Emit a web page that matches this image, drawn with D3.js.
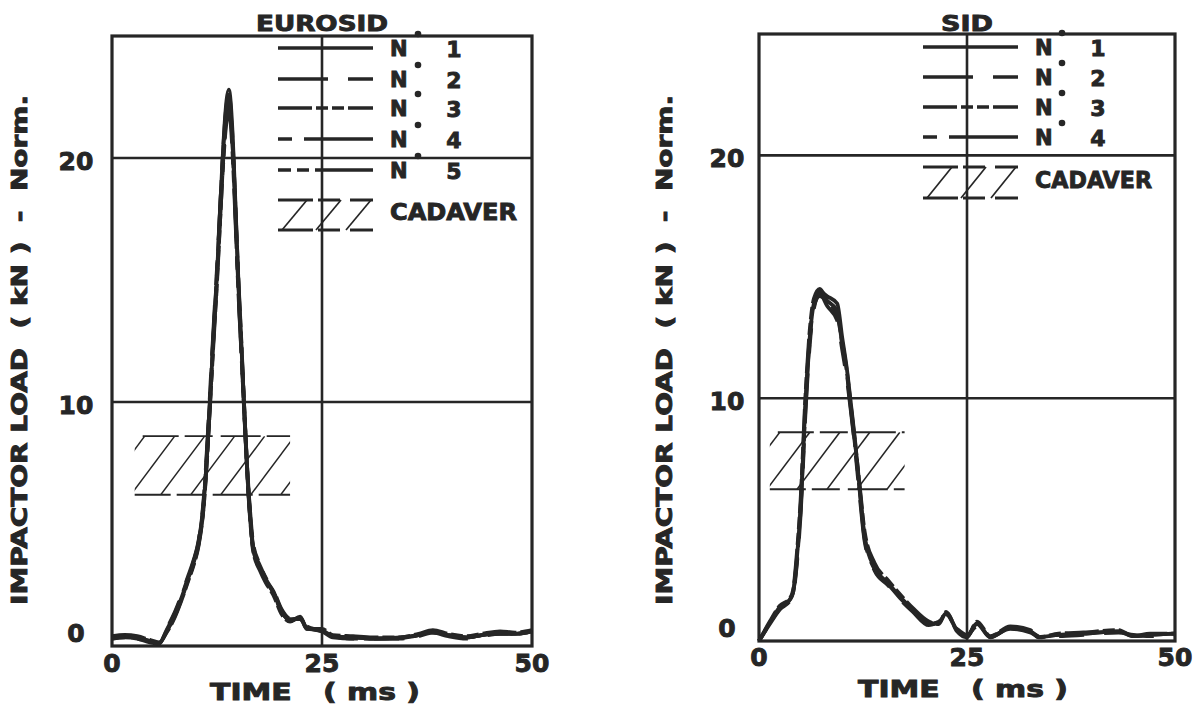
<!DOCTYPE html>
<html lang="en">
<head>
<meta charset="UTF-8">
<title>Impactor load - EUROSID / SID</title>
<script src="https://d3js.org/d3.v7.min.js"></script>
<style>
  body { margin: 0; background: white; }
  svg text { font-family: "DejaVu Sans", sans-serif; font-weight: bold; fill: #262626; stroke: #262626; stroke-width: 0.9; white-space: pre; }
</style>
</head>
<body>
<svg width="1200" height="704"></svg>
<script>
// ---- data ----
const timeTicks = [0, 25, 50];
const loadTicks = [0, 10, 20];

const eurosidTime = [0, 1.5, 3, 4.5, 5.6, 6.5, 7.5, 8.3, 9.0, 9.7, 10.3, 10.8, 12.3, 13.9, 15.2, 16.4, 16.8, 17.6, 18.3, 19.2, 20.2, 21.2, 22.4, 23.2, 25, 26.3, 28.7, 31, 34.3, 36.5, 38.2, 40, 42.2, 44, 46.2, 48, 50];
const eurosidN1 = [0.35, 0.4, 0.35, 0.2, 0.1, 0.6, 1.3, 2.0, 2.7, 3.4, 4.2, 5.4, 14.0, 22.8, 13.8, 5.5, 4.0, 3.2, 2.7, 2.2, 1.4, 1.05, 1.15, 0.75, 0.65, 0.4, 0.35, 0.3, 0.33, 0.45, 0.6, 0.45, 0.35, 0.45, 0.55, 0.5, 0.6];
const eurosidN2 = [0.3, 0.35, 0.3, 0.15, 0.1, 0.7, 1.4, 2.1, 2.8, 3.5, 4.3, 5.6, 14.3, 22.4, 13.5, 5.6, 4.1, 3.3, 2.8, 2.3, 1.5, 1.1, 1.0, 0.8, 0.6, 0.35, 0.3, 0.3, 0.3, 0.4, 0.55, 0.4, 0.3, 0.4, 0.5, 0.5, 0.55];
const eurosidN3 = [0.4, 0.45, 0.4, 0.25, 0.15, 0.55, 1.2, 1.9, 2.6, 3.3, 4.1, 5.3, 13.7, 22.2, 13.9, 5.4, 3.9, 3.1, 2.6, 2.1, 1.3, 1.0, 1.2, 0.7, 0.7, 0.45, 0.4, 0.35, 0.35, 0.5, 0.65, 0.5, 0.4, 0.5, 0.6, 0.55, 0.65];
const eurosidN4 = [0.35, 0.4, 0.3, 0.2, 0.1, 0.65, 1.35, 2.05, 2.75, 3.45, 4.25, 5.5, 14.1, 22.6, 13.6, 5.7, 4.2, 3.35, 2.75, 2.25, 1.45, 1.1, 1.1, 0.75, 0.6, 0.4, 0.35, 0.3, 0.3, 0.45, 0.6, 0.45, 0.35, 0.45, 0.5, 0.5, 0.6];
const eurosidN5 = [0.3, 0.35, 0.35, 0.2, 0.1, 0.6, 1.25, 1.95, 2.65, 3.35, 4.15, 5.35, 13.9, 21.9, 13.4, 5.5, 4.0, 3.2, 2.7, 2.2, 1.4, 1.05, 1.15, 0.7, 0.65, 0.4, 0.3, 0.3, 0.35, 0.45, 0.55, 0.45, 0.35, 0.45, 0.55, 0.5, 0.6];

const sidTime = [0, 1.3, 2.5, 3.7, 4.1, 4.5, 5.0, 5.6, 6.1, 6.6, 7.3, 8.2, 9.4, 10.0, 10.6, 11.0, 11.5, 12.1, 12.7, 13.9, 15.5, 17.0, 18.5, 20.4, 21.6, 22.5, 23.8, 25, 26.2, 27.8, 30.2, 32.6, 33.6, 36, 39, 43.2, 45, 47, 50];
const sidN1 = [0, 0.75, 1.4, 1.7, 2.0, 3.2, 5.5, 9.9, 12.5, 13.9, 14.4, 14.2, 13.9, 12.5, 11.1, 9.9, 8.4, 6.3, 4.3, 3.0, 2.4, 1.8, 1.3, 0.7, 0.75, 1.15, 0.45, 0.2, 0.74, 0.16, 0.53, 0.4, 0.16, 0.25, 0.3, 0.4, 0.2, 0.25, 0.3];
const sidN2 = [0, 0.7, 1.3, 1.65, 1.9, 3.0, 5.2, 9.5, 12.2, 13.7, 14.3, 13.8, 13.2, 12.0, 10.7, 9.6, 8.1, 6.0, 4.1, 2.9, 2.3, 1.7, 1.2, 0.65, 0.8, 1.0, 0.5, 0.25, 0.6, 0.2, 0.5, 0.35, 0.2, 0.2, 0.25, 0.35, 0.25, 0.2, 0.25];
const sidN3 = [0, 0.8, 1.45, 1.75, 2.1, 3.4, 5.8, 10.2, 12.8, 14.1, 14.5, 14.0, 13.4, 12.3, 11.0, 9.8, 8.3, 6.4, 4.5, 3.2, 2.5, 1.9, 1.35, 0.8, 0.7, 1.2, 0.4, 0.15, 0.8, 0.2, 0.6, 0.45, 0.15, 0.3, 0.35, 0.45, 0.2, 0.3, 0.3];
const sidN4 = [0, 0.72, 1.35, 1.7, 2.0, 3.1, 5.4, 9.7, 12.4, 13.8, 14.2, 14.0, 13.6, 12.2, 10.9, 9.7, 8.2, 6.2, 4.2, 2.95, 2.35, 1.75, 1.25, 0.7, 0.75, 1.1, 0.45, 0.2, 0.7, 0.15, 0.55, 0.4, 0.2, 0.25, 0.3, 0.4, 0.2, 0.25, 0.3];

// cadaver corridor: time span and load band
const eurosidCorridorTime = [2.7, 21.2];
const eurosidCorridorLoad = [6.2, 8.6];
const sidCorridorTime = [1.3, 17.5];
const sidCorridorLoad = [6.25, 8.6];

const dummyNumbers = ["1", "2", "3", "4", "5"];
const dashes = [null, "50 20 25 20", "34 4 12 4 12 4", "14 12 70 10", "13 6 12 6 60 8"];

// ---- drawing ----
const svg = d3.select("svg");
const ink = "#262626";

const panels = [
  { title: "EUROSID", titleW: 132, left: 112, right: 532, top: 36, bottom: 646,
    time: eurosidTime, series: [eurosidN1, eurosidN2, eurosidN3, eurosidN4, eurosidN5],
    corrT: eurosidCorridorTime, corrL: eurosidCorridorLoad,
    legX: 278, legRows: [48, 79, 108, 139, 170], cadY: [200, 230],
    textX: 390, dotX: 418, numX: 454, cadW: 127,
    yLabelX: 19, xLabelX: 210, xLabelY: 700, xTickY: 663, yTickX: 76 },
  { title: "SID", titleW: 52, left: 759, right: 1175, top: 34, bottom: 641,
    time: sidTime, series: [sidN1, sidN2, sidN3, sidN4],
    corrT: sidCorridorTime, corrL: sidCorridorLoad,
    legX: 923, legRows: [47, 77, 107, 137], cadY: [167, 198],
    textX: 1035, dotX: 1062, numX: 1098, cadW: 117,
    yLabelX: 664, xLabelX: 858, xLabelY: 697, xTickY: 657, yTickX: 727 }
];

panels.forEach((p, pi) => {
  const x = d3.scaleLinear().domain([0, 50]).range([p.left, p.right]);
  const y = d3.scaleLinear().domain([0, 25]).range([p.bottom, p.top]);
  const g = svg.append("g");

  // grid lines
  g.selectAll(".hgrid").data([10, 20]).enter().append("line")
    .attr("x1", p.left).attr("x2", p.right)
    .attr("y1", d => y(d)).attr("y2", d => y(d))
    .attr("stroke", ink).attr("stroke-width", 2.6);
  g.append("line")
    .attr("x1", x(25)).attr("x2", x(25)).attr("y1", p.top).attr("y2", p.bottom)
    .attr("stroke", ink).attr("stroke-width", 2.6);

  // frame
  g.append("rect")
    .attr("x", p.left).attr("y", p.top)
    .attr("width", p.right - p.left).attr("height", p.bottom - p.top)
    .attr("fill", "none").attr("stroke", ink).attr("stroke-width", 3.2);

  // cadaver corridor
  const cx0 = x(p.corrT[0]), cx1 = x(p.corrT[1]);
  const cyLo = y(p.corrL[0]), cyHi = y(p.corrL[1]);
  const clipId = "corr" + pi;
  svg.append("clipPath").attr("id", clipId).append("rect")
    .attr("x", cx0).attr("y", cyHi).attr("width", cx1 - cx0).attr("height", cyLo - cyHi);
  const dx = 0.75 * (cyLo - cyHi);
  const hatch = d3.range(cx0 - dx + 10, cx1, 30);
  g.append("g").attr("clip-path", `url(#${clipId})`)
    .selectAll("line").data(hatch).enter().append("line")
    .attr("x1", d => d).attr("y1", cyLo).attr("x2", d => d + dx).attr("y2", cyHi)
    .attr("stroke", ink).attr("stroke-width", 1.5);
  g.selectAll(".cedge").data(p.corrL).enter().append("line")
    .attr("x1", (d, i) => i ? cx0 + 8 : cx0).attr("x2", cx1)
    .attr("y1", d => y(d)).attr("y2", d => y(d))
    .attr("stroke", ink).attr("stroke-width", 1.9)
    .attr("stroke-dasharray", "36 6 28 8 40 6");

  // curves
  const line = d3.line()
    .x((d, i) => x(p.time[i]))
    .y(d => y(d))
    .curve(d3.curveMonotoneX);
  p.series.forEach((s, i) => {
    g.append("path").datum(s)
      .attr("d", line)
      .attr("fill", "none").attr("stroke", ink)
      .attr("stroke-width", 3.8)
      .attr("stroke-linejoin", "round")
      .attr("stroke-dasharray", dashes[i]);
  });

  // legend
  p.series.forEach((s, i) => {
    const ry = p.legRows[i];
    g.append("line")
      .attr("x1", p.legX).attr("x2", p.legX + 95).attr("y1", ry).attr("y2", ry)
      .attr("stroke", ink).attr("stroke-width", 3.6)
      .attr("stroke-dasharray", dashes[i]);
    g.append("text").attr("x", p.textX).attr("y", ry + 1)
      .attr("dominant-baseline", "central").attr("font-size", 21).text("N");
    g.append("circle").attr("cx", p.dotX).attr("cy", ry - 14).attr("r", 3.3).attr("fill", ink);
    g.append("text").attr("x", p.numX).attr("y", ry + 1)
      .attr("dominant-baseline", "central").attr("text-anchor", "middle")
      .attr("font-size", 22).text(dummyNumbers[i]);
  });
  // cadaver legend sample
  const lg = g.append("g");
  p.cadY.forEach(cy => {
    lg.append("line").attr("x1", p.legX).attr("x2", p.legX + 95).attr("y1", cy).attr("y2", cy)
      .attr("stroke", ink).attr("stroke-width", 3.2).attr("stroke-dasharray", "35 5 22 10 25");
  });
  [p.legX + 4, p.legX + 38, p.legX + 68].forEach(sx => {
    lg.append("line").attr("x1", sx).attr("y1", p.cadY[1]).attr("x2", sx + 25).attr("y2", p.cadY[0])
      .attr("stroke", ink).attr("stroke-width", 1.7);
  });
  g.append("text").attr("x", p.textX).attr("y", (p.cadY[0] + p.cadY[1]) / 2 - 3)
    .attr("dominant-baseline", "central").attr("font-size", 23)
    .attr("textLength", p.cadW).attr("lengthAdjust", "spacingAndGlyphs").text("CADAVER");

  // title
  g.append("text").attr("x", x(25) - p.titleW / 2).attr("y", 31)
    .attr("font-size", 22).attr("textLength", p.titleW).attr("lengthAdjust", "spacingAndGlyphs")
    .text(p.title);

  // tick labels
  g.selectAll(".xt").data(timeTicks).enter().append("text")
    .attr("x", d => x(d)).attr("y", p.xTickY)
    .attr("text-anchor", "middle").attr("dominant-baseline", "central")
    .attr("font-size", 25).text(d => d);
  g.selectAll(".yt").data(loadTicks).enter().append("text")
    .attr("x", p.yTickX).attr("y", d => y(d) + (d === 0 ? -13 : 3))
    .attr("text-anchor", "middle").attr("dominant-baseline", "central")
    .attr("font-size", 25).text(d => d);

  // axis titles
  g.append("text").attr("x", p.xLabelX).attr("y", p.xLabelY)
    .attr("font-size", 23).attr("textLength", 210).attr("lengthAdjust", "spacingAndGlyphs")
    .text("TIME   ( ms )");
  g.append("text")
    .attr("transform", `translate(${p.yLabelX},350) rotate(-90)`)
    .attr("text-anchor", "middle").attr("dominant-baseline", "central")
    .attr("font-size", 22).attr("textLength", 510).attr("lengthAdjust", "spacingAndGlyphs")
    .text("IMPACTOR LOAD  ( kN )  -  Norm.");
});
</script>
</body>
</html>
